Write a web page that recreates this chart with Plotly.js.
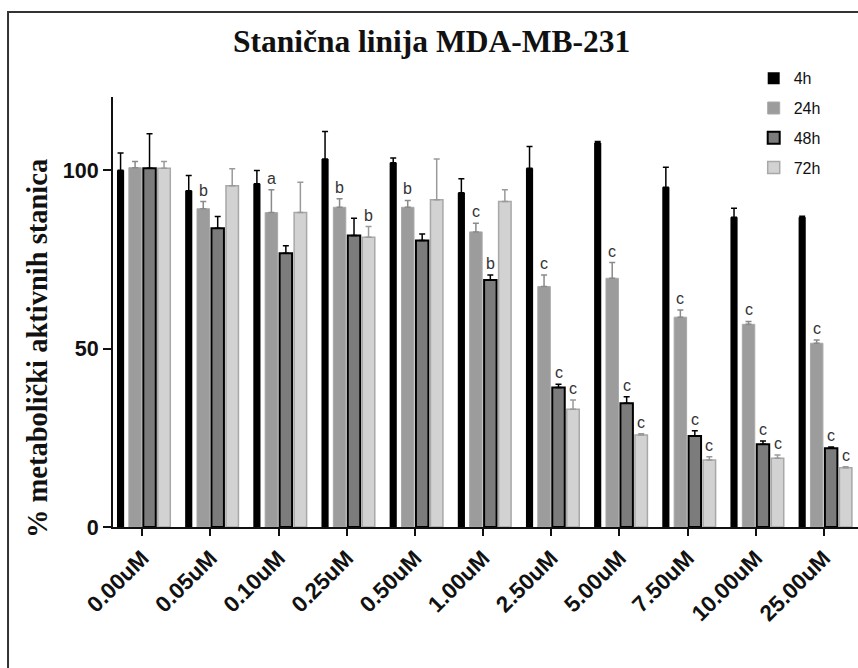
<!DOCTYPE html>
<html>
<head>
<meta charset="utf-8">
<script src="https://cdn.plot.ly/plotly-3.0.1.min.js"></script>
<style>
html,body{margin:0;padding:0;background:#fff;overflow:hidden;}
#chart{width:858px;height:668px;}
</style>
</head>
<body>
<div id="chart"></div>
<script>
// ---- data ----
const categories = ['0.00uM','0.05uM','0.10uM','0.25uM','0.50uM','1.00uM','2.50uM','5.00uM','7.50uM','10.00uM','25.00uM'];
const seriesNames = ['4h','24h','48h','72h'];

const v4h  = [100.0, 94.2, 96.2, 103.1, 102.1, 93.7, 100.5, 107.6, 95.2, 86.8, 86.8];
const e4h  = [4.8, 4.3, 3.7, 7.7, 1.3, 3.9, 6.1, 0.4, 5.6, 2.5, 0.3];
const v24h = [100.7, 89.2, 88.1, 89.6, 89.6, 82.7, 67.4, 69.7, 58.8, 56.8, 51.5];
const e24h = [1.7, 2.0, 6.4, 2.4, 1.9, 2.4, 3.2, 4.4, 2.0, 0.8, 0.9];
const v48h = [100.5, 83.7, 76.7, 81.7, 80.3, 69.2, 39.1, 34.7, 25.5, 23.2, 22.1];
const e48h = [9.7, 3.3, 2.1, 4.8, 1.8, 1.4, 0.9, 1.8, 1.5, 0.9, 0.3];
const v72h = [100.5, 95.6, 88.1, 81.2, 91.7, 91.2, 33.0, 25.8, 18.8, 19.3, 16.6];
const e72h = [1.9, 4.8, 8.5, 3.0, 11.4, 3.3, 2.6, 0.3, 0.9, 0.9, 0.3];

// significance letters
const l4h  = ['', '', '', '', '', '', '', '', '', '', ''];
const l24h = ['', 'b', 'a', 'b', 'b', 'c', 'c', 'c', 'c', 'c', 'c'];
const l48h = ['', '', '', '', '', 'b', 'c', 'c', 'c', 'c', 'c'];
const l72h = ['', '', '', 'b', '', '', 'c', 'c', 'c', 'c', 'c'];

const titleText = 'Stanična linija MDA-MB-231';
const yTitleText = '% metabolički aktivnih stanica';
const yTickVals = [0, 50, 100];

// ---- styles ----
const styles = [
  {center:-0.319, width:0.105, fill:'#000000', line:'#000000', lw:0,   err:'#000000'},
  {center:-0.106, width:0.183, fill:'#9c9c9c', line:'#a8a8a8', lw:1,   err:'#8a8a8a'},
  {center: 0.106, width:0.183, fill:'#7c7c7c', line:'#000000', lw:2,   err:'#000000'},
  {center: 0.319, width:0.183, fill:'#d2d2d2', line:'#a8a8a8', lw:1.5, err:'#9a9a9a'}
];
const vals = [v4h, v24h, v48h, v72h];
const errs = [e4h, e24h, e48h, e72h];
const labs = [l4h, l24h, l48h, l72h];

const traces = vals.map((v, k) => ({
  type: 'bar',
  name: seriesNames[k],
  legendgroup: seriesNames[k],
  x: categories,
  y: v,
  width: styles[k].width,
  offset: styles[k].center - styles[k].width / 2,
  marker: {color: styles[k].fill, line: {color: styles[k].line, width: styles[k].lw}},
  error_y: {type: 'data', symmetric: false, array: errs[k], arrayminus: errs[k].map(() => 0),
            color: styles[k].err, thickness: 1.5, width: 3},
  hoverinfo: 'skip'
}));

const annotations = [];
labs.forEach((arr, k) => {
  arr.forEach((t, i) => {
    if (!t) return;
    annotations.push({
      x: i + styles[k].center, y: vals[k][i] + errs[k][i], xref: 'x', yref: 'y',
      text: t, showarrow: false, xanchor: 'center', yanchor: 'bottom', yshift: 1,
      font: {family: 'Liberation Sans, Arial, sans-serif', size: 16, color: '#333'}
    });
  });
});
annotations.push({
  xref: 'paper', yref: 'paper', x: -0.1013, y: 0.415, xanchor: 'center', yanchor: 'middle',
  text: yTitleText, textangle: -90, showarrow: false,
  font: {family: 'Liberation Serif, Times New Roman, serif', size: 28.5, color: '#111', weight: 'bold'}
});

const layout = {
  width: 858, height: 668,
  margin: {l: 113, r: 0, t: 97, b: 141},
  paper_bgcolor: '#fff', plot_bgcolor: '#fff',
  barmode: 'overlay',
  title: {text: titleText, xref: 'container', yref: 'container', x: 0.503, y: 0.938,
          xanchor: 'center', yanchor: 'middle',
          font: {family: 'Liberation Serif, Times New Roman, serif', size: 31.5, color: '#111', weight: 'bold'}},
  xaxis: {
    type: 'category', range: [-0.43, 10.5],
    showline: true, linecolor: '#111', linewidth: 2,
    ticks: 'outside', ticklen: 7, tickwidth: 2, tickcolor: '#111',
    tickangle: -45, showgrid: false, zeroline: false,
    tickfont: {family: 'Liberation Sans, Arial, sans-serif', size: 22.5, color: '#111', weight: 'bold'}
  },
  yaxis: {
    range: [0, 120.5], tickvals: yTickVals, ticktext: yTickVals.map(String),
    showline: true, linecolor: '#111', linewidth: 2,
    ticks: 'outside', ticklen: 8, tickwidth: 2, tickcolor: '#111',
    showgrid: false, zeroline: false,
    tickfont: {family: 'Liberation Sans, Arial, sans-serif', size: 21.5, color: '#111', weight: 'bold'}
  },
  legend: {
    x: 0.860, y: 1.083, xanchor: 'left', yanchor: 'top',
    bgcolor: 'rgba(0,0,0,0)', tracegroupgap: 6, traceorder: 'grouped',
    font: {family: 'Liberation Sans, Arial, sans-serif', size: 16, color: '#111'}
  },
  annotations: annotations,
  shapes: [{
    type: 'rect', xref: 'paper', yref: 'paper',
    x0: -0.1409, x1: 1.2, y0: -0.5, y1: 1.1977,
    line: {color: '#333', width: 2}, fillcolor: 'rgba(0,0,0,0)', layer: 'below'
  }],
  showlegend: true
};

Plotly.newPlot('chart', traces, layout, {displayModeBar: false, staticPlot: true});
</script>
</body>
</html>
